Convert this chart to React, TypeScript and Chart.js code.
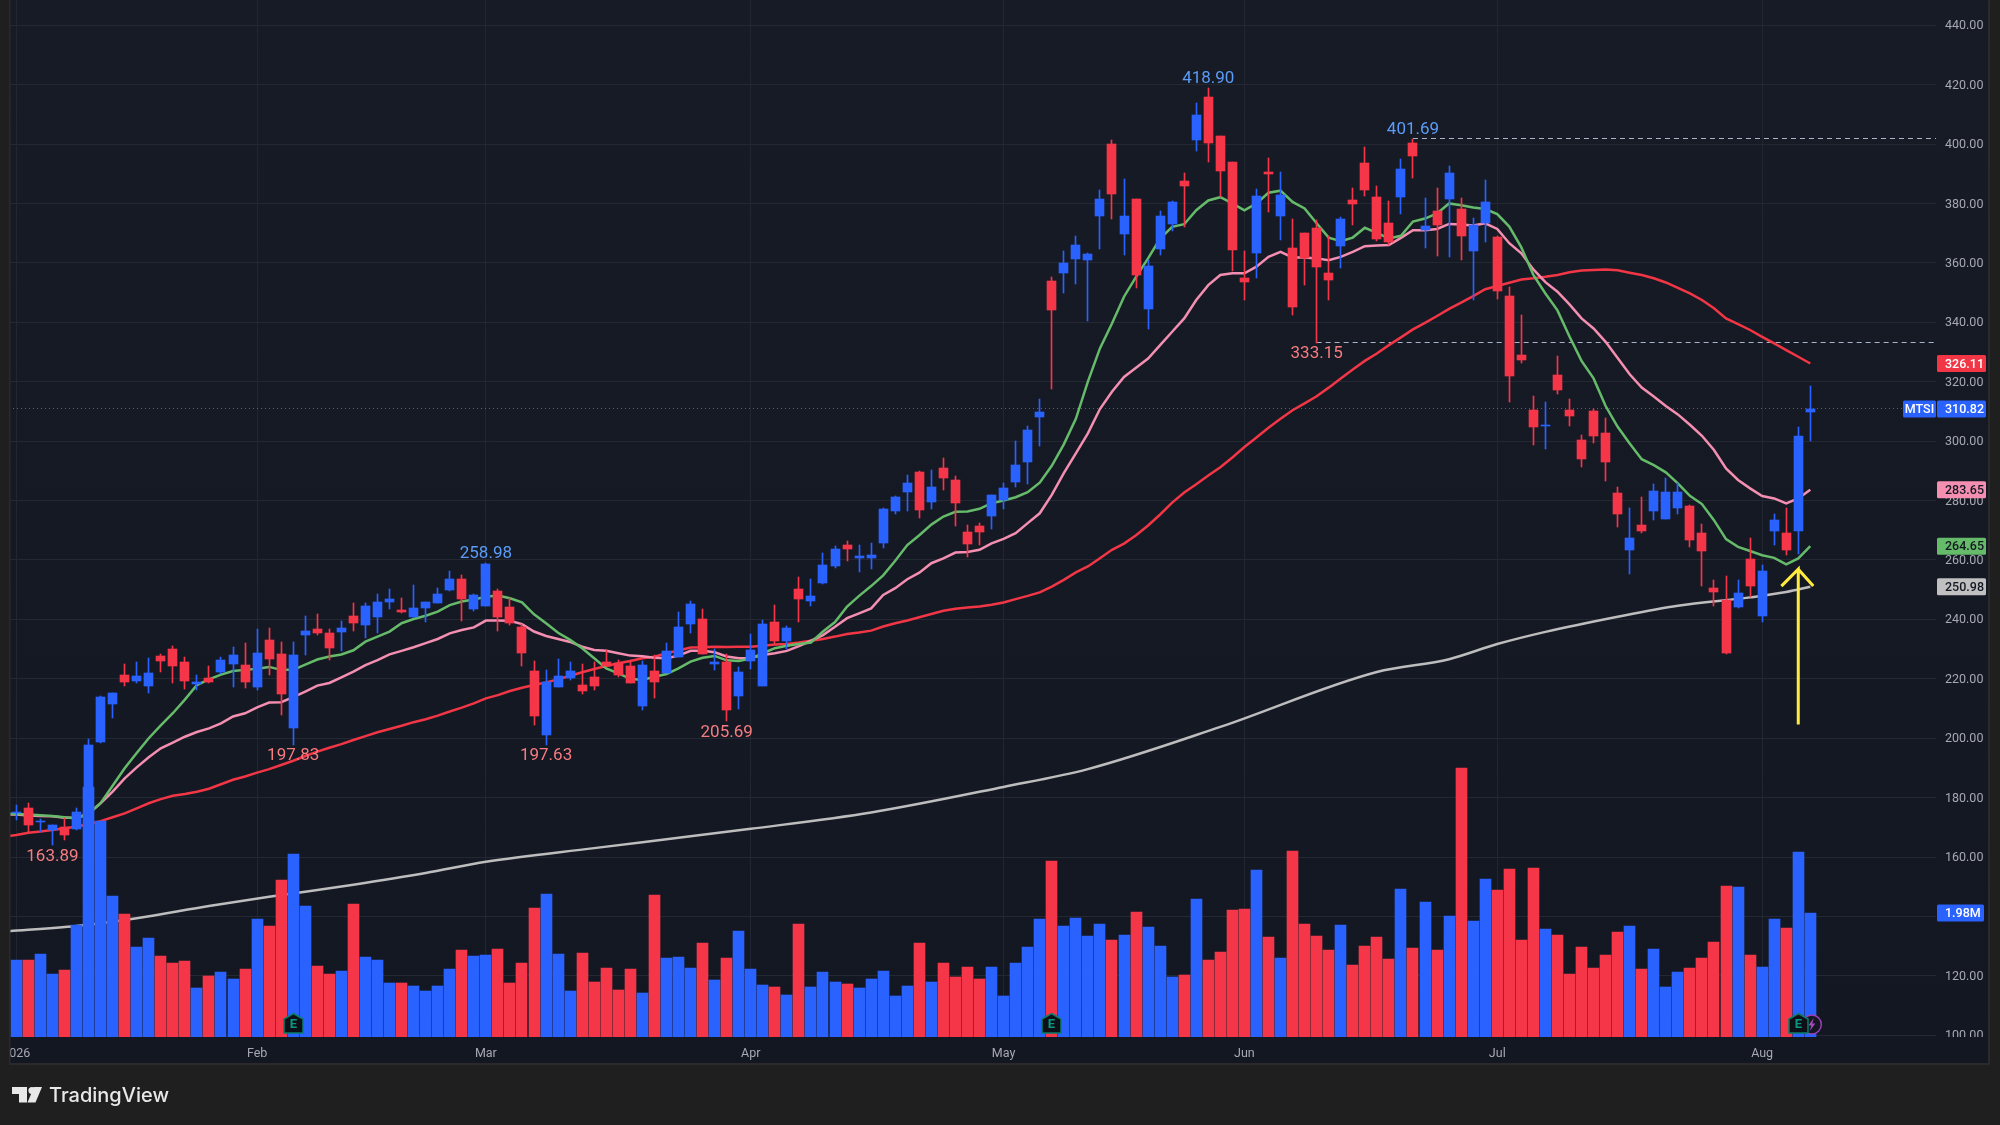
import React, { useEffect, useRef } from "react";
import { Chart, registerables } from "chart.js";

Chart.register(...registerables);

const opens = [174.7,176.5,171.8,169.1,170,169.4,176,198.7,211.5,221.3,219.3,217.6,227.7,230,225.6,218.4,220.3,222.3,225,224.6,217.2,233,228.3,203.4,234.7,236.8,235.4,235.8,241.1,238.1,240.8,245.8,243.2,240.8,243.8,245.5,249.9,253.6,243.5,244.5,
249.5,244.2,237.4,222.6,201.1,217.2,220.3,217.9,220.6,225.6,225.3,224.3,210.8,222.6,221.8,227.3,238.5,240.1,225,225.6,214.2,226,217.6,239.1,232.7,250.2,246.2,252.3,258,265,260.7,260.7,265.7,276.5,282.9,289.6,279.5,291,286.9,269.4,271.5,274.8,280.2,286.3,293,308.1,
353.8,356.5,361.2,360.9,375.7,400,369.7,381.5,344.4,364.6,373,387.5,401.3,415.8,402.6,393.9,354.9,363.3,390.5,375.7,365,370,371.7,356.5,365.6,381.1,393.6,382.1,373.4,382.1,400.3,371,377.4,381.5,378.1,363.9,373.4,368.7,348.8,329,
310.4,305,322.2,310.4,300.3,310.1,302.7,282.5,263.3,271.7,276.4,273.8,277.5,278.1,269,250.5,246.5,244.1,260.3,241.1,269.7,269,269.7,309.8];
const closes = [175.2,170.9,172.2,170.8,167.4,175.2,197.7,213.9,215.2,218.9,220.9,222,226,224.3,219.3,218.8,218.9,226.3,228,218.9,228.7,226.7,214.9,228,236.1,235.4,230.4,237.1,238.8,244.5,245.8,246.9,242.5,243.8,245.8,248.5,253.6,246.9,248.2,258.6,
240.8,238.8,228.7,207.5,218.9,220.9,222.6,215.9,217.6,224.4,221.3,218.6,224.6,218.9,229.4,237.4,245.2,228.3,225.6,209.5,222.3,229.7,238.4,232.7,237.1,246.9,247.9,258.3,263.7,263.7,261.3,261.7,277.2,281.2,285.9,276.8,284.6,287.6,279.2,265.4,269.4,281.9,284.2,292,303.8,309.8,
344.1,359.9,366,362.9,381.5,383.1,375.7,355.9,358.9,375.7,380.4,385.8,409.7,400.3,390.9,364.3,353.5,382.5,390,382.8,345.1,361.6,358.6,354.2,374.7,379.8,384.5,368,367,391.5,395.9,372.4,372.7,390.2,369,372.7,380.5,350.5,321.9,327.3,
304.7,305.4,317.2,308.4,293.9,301.7,292.9,275.4,267.4,269.7,283.2,282.8,282.8,266.7,263,249.2,228.6,248.8,251.2,256.2,273.4,263.3,301.7,310.82];
const highs = [177.5,178.1,172.9,170.8,173,176.4,199.7,214.2,215.2,225,225.6,227,228.3,231,227.3,221.3,224.3,227.3,230.7,232,236.8,237.1,232.4,232.4,241.1,241.8,236.8,239.5,245.5,245.5,248.5,250.2,247.2,251.6,245.8,250.6,256.3,254.9,248.5,258.98,
250.2,247.2,238.4,226,223,226.7,225.6,225,225.6,229.7,226.3,226.3,226,228,232,242.5,246.2,243.5,230,228.3,224,235.1,239.8,244.8,237.8,254.3,253.6,262.3,264.7,266.4,265,265.7,277.5,281.6,288.6,290,290.3,294.3,288.3,271.8,272.5,281.9,285.9,300,305.1,314.2,
355.2,363.9,369,363.3,384.5,401.3,388.2,381.5,360.9,377.4,380.8,390.2,413.8,418.9,402.6,393.9,363.9,384.8,395.2,390.5,374.7,370,374.4,369,375.4,385.2,399,385.8,380.8,394.9,401.69,381.8,385.2,392.6,381.8,375,387.9,369.2,351.9,342.4,
315.2,313.1,328.6,314.1,302,310.7,307.7,284.5,277.5,281.2,285.5,287.6,285.8,278.5,272,253.2,254.6,253.2,267.4,258.3,275.4,277.5,304.7,318.5];
const lows = [172.5,168.3,168.5,163.89,165.7,169.1,175,198.5,206.8,217.6,218.6,215.2,222.3,218.6,216.6,216.2,218.7,221.6,217.2,216.9,216.2,221.3,207.8,197.83,228,234.9,226.3,229.4,236.1,233.7,235.4,243.5,242.1,240.8,239.2,245.5,249.5,239.5,242.8,244.5,
236.1,238.1,224.3,204.4,197.63,217.2,219.6,214.9,216.2,224.3,220.6,218.6,209.5,213.5,221.8,227.3,235.4,228.3,223,205.69,209.8,223.3,217.6,231.4,230,239.1,244.5,251.9,257.3,259.6,256,257,264,275.5,276.5,274.1,277.2,283.6,271.5,261,265,270.4,277.2,284.6,285.6,298.4,
317.6,349.8,352.8,340.4,364.6,374.7,362.6,351.5,337.7,362.6,370.7,372.1,397.6,393.9,382.1,357.2,347.5,354.9,377.1,367.6,342.4,352.5,333.15,347.5,358.2,372.7,382.5,367.3,366,376.4,388.5,365,362.3,361.9,360.9,347.5,367.1,347.8,313.1,326.3,
298.7,297.3,315.8,305,291.3,299.3,286.5,271,255.2,269,273.4,273.8,275.4,264.3,251.2,244.5,228.4,243.8,247.5,239.1,265,261.6,262,300];
const volumes = [1.226,1.226,1.324,1.0,1.065,1.785,4.0,3.45,2.25,1.96,1.43,1.58,1.29,1.18,1.21,0.79,0.97,1.04,0.92,1.08,1.88,1.77,2.5,2.92,2.09,1.13,1.0,1.05,2.12,1.27,1.23,0.86,0.86,0.81,0.73,0.81,1.08,1.39,1.29,1.31,
1.40,0.86,1.19,2.06,2.28,1.32,0.73,1.34,0.875,1.10,0.75,1.08,0.71,2.27,1.26,1.28,1.10,1.50,0.91,1.26,1.69,1.09,0.83,0.80,0.67,1.81,0.80,1.04,0.88,0.85,0.78,0.93,1.05,0.65,0.81,1.50,0.88,1.18,0.96,1.12,0.93,1.12,0.65,1.18,1.44,1.885,
2.81,1.77,1.90,1.61,1.80,1.55,1.63,2.0,1.76,1.45,0.96,0.99,2.20,1.23,1.36,2.03,2.04,2.67,1.60,1.26,2.97,1.81,1.61,1.39,1.79,1.15,1.45,1.60,1.25,2.36,1.42,2.16,1.39,1.93,4.30,1.85,2.52,2.35,2.68,1.55,
2.70,1.725,1.63,1.01,1.44,1.10,1.31,1.68,1.77,1.09,1.41,0.80,1.04,1.10,1.26,1.52,2.41,2.40,1.31,1.12,1.885,1.74,2.955,1.98];

const maFast = [174.6,174.5,174.3,174.1,173.8,173.4,173.0,174.5,178.1,184,189.9,195,200,204.3,208.4,213,217.9,219.8,221.4,222.6,223,223.4,224,223,223,224.8,226.5,227.5,228.2,229.6,232.5,234.2,235.9,238.7,240.1,241.2,242.6,244.8,246,246.7,247.6,
248,247.1,245.7,241.7,238.7,235.5,233.1,230.3,226.9,223.5,221.8,220,219.6,220.7,221.6,223.5,225.8,227.1,227.7,226.2,226,226.8,228.6,230.3,231.1,231.7,232.2,235.9,239.1,244.3,247.9,251.2,254.8,259.7,265,268.3,271.9,274.6,276.2,276.3,277.2,279.1,280,281.1,282.8,286,291.7,298.9,307.5,320,331.2,339.6,348.6,355.3,361.5,368.2,372.1,373,377.7,381,382.1,380,377.7,380,383.6,384.3,380.5,378.3,373.3,368.5,367.3,368.5,371.8,370.1,368.2,369.1,373.9,374.9,376.6,380,379.4,378.6,378.1,376.4,372.2,365.2,355.9,349.7,344,335.2,327,321.1,311.8,304.8,299.2,293.9,291.9,289.5,285.8,281.6,278.8,273.4,267,264.4,263,261.6,260.7,258.5,260.5,264.65];
const maMid = [174.4,174.3,174,173.8,173.7,173.2,173.2,174.7,178.1,182,186.5,190.2,193.6,196.6,198.5,200.5,202.1,203.3,205,207.3,208.4,210.4,212,212.1,213.8,215.7,217.7,218.6,220.5,222.4,224.6,226.3,228.2,229.4,230.6,232,233.4,235.3,236.4,237.3,239.6,
239.6,239.5,238.4,235.9,234.4,233.4,232.4,230.8,229.7,229.4,228.6,227.8,227.6,227.1,226.9,227.8,229.4,229.4,228.9,227.5,226.9,227,228,228.6,229.4,231,232.8,234.7,237.5,240.4,242,243.7,248.2,250.5,253.5,255.7,258.9,260.5,262.5,262.7,263.4,265.6,267.1,269,272.4,275.7,281.9,289.2,295.9,302.6,310.8,316.6,321.6,324.7,327.8,332.3,336.8,341.3,347.5,352.5,355.9,356.5,356.5,358.7,362,363.7,361.8,361.8,361.5,360.9,362,363.7,365.6,365.8,366,368.4,371,371,371.4,373.1,372.9,372.6,373.3,371.4,366.6,363.2,357.8,353.5,350.3,346,341.3,337.9,333.4,328,322.5,318,315,311.8,309,305.5,301.8,297,290.8,286.9,284.1,281.5,280.7,279,280.7,283.65];
const maSlow = [166.9,167.4,168.2,168.6,169.1,169.7,170.2,171.1,172.1,173.4,174.7,176.4,178.1,179.5,180.6,181.2,182,183,184.5,186,187.1,188.4,189.6,191,192.4,194,195.5,196.8,198,199.4,200.7,202,203.1,204.2,205.4,206.4,207.6,209,210.3,211.7,213.4,
214.5,215.9,217,217.9,218.8,219.8,221,222.2,223.3,224.3,225.2,226,226.9,227.4,228.6,229.5,230.5,230.6,230.8,230.7,230.8,230.8,231.1,231.5,231.7,232.2,232.8,233.4,234.2,235.1,235.6,236.2,237.6,238.7,239.6,240.7,241.8,242.9,243.6,244,244.3,244.9,245.7,246.8,247.9,249.1,251,253.3,255.8,257.8,260.6,263.4,265.5,268.3,271.6,275.3,279.3,282.7,285.5,288.4,291.2,294.5,298,301.2,304.5,307.5,310.4,312.7,315.1,318,321.1,324.1,327,329.5,332.3,334.9,337.6,339.8,342.1,344.5,346.6,348.8,351.1,352.2,353.3,354.4,354.8,355.3,355.9,356.8,357.4,357.6,357.8,357.5,356.7,355.9,354.8,353.4,351.6,349.7,347.5,344.7,341.3,339.4,337.4,335.1,332.9,330.6,328.4,326.11];
const ma200Index = [-1,5,10,16,21,28,34,39,48,54,61,71,82,89,100,113,119,123,127,133,138,144,147,149];
const ma200Value = [134.9,136.8,139.4,143.5,146.6,150.7,154.6,158.4,163,166,169.5,175,183.6,189.6,203.8,222.3,226.6,231.7,235.8,240.9,244.6,247.4,249.2,250.98];

const priceTicks = [100,120,140,160,180,200,220,240,260,280,300,320,340,360,380,400,420,440];
const monthTicks = [0,20,39,61,82,102,123,145];
const monthLabels = ["2026","Feb","Mar","Apr","May","Jun","Jul","Aug"];
const pivotIndex = [3,23,39,44,59,99,108,116];
const pivotPrice = [163.89,197.83,258.98,197.63,205.69,418.9,333.15,401.69];
const pivotIsHigh = [false,false,true,false,false,true,false,true];
const earningsIndex = [23,86,148];
const dividendIndex = [149];
const lastClose = 310.82;
const lastVolume = 1.98;
const ticker = "MTSI";
const tagValues = [326.11,283.65,264.65,250.98];
const tagFill = ["#F23645","#F48FB1","#66BB6A","#C0C0C0"];
const tagText = ["#FFFFFF","#131722","#131722","#131722"];

const arrowX = [148,148,146.6,148,149.25];
const arrowY = [204.6,256.9,251.2,256.9,251.2];

const BLUE = "#2962FF";
const RED = "#F43648";
const X_MIN = -0.606;
const X_MAX = 159.44;
const Y_MIN = 99.43;
const Y_MAX = 448.47;
const VOL_MAX = 16.565;
const TICK_FONT = "Roboto";
const TICK_COLOR = "#A6A9B1";

const isUp = closes.map((c, i) => c >= opens[i]);
const colors = isUp.map((u) => (u ? BLUE : RED));

const snapPlugin = {
  id: "snap",
  afterDatasetsUpdate(chart: any) {
    chart.getSortedVisibleDatasetMetas().forEach((m: any) => {
      if (m.type === "line" && m.controller.getDataset().borderWidth === 1) {
        m.data.forEach((p: any) => {
          p.y = Math.floor(p.y) + 0.5;
        });
        return;
      }
      if (m.type !== "bar") return;
      m.data.forEach((el: any) => {
        el.x = Math.floor(el.x) + 0.5;
        el.y = Math.round(el.y);
        el.base = Math.round(el.base);
        if (Math.abs(el.base - el.y) < 1) el.base = el.y + 1;
      });
    });
  },
};

function roundRect(ctx: any, x: number, y: number, w: number, h: number, r: number) {
  ctx.beginPath();
  ctx.roundRect(x, y, w, h, r);
  ctx.fill();
}

const backgroundPlugin = {
  id: "bg",
  beforeDraw(chart: any) {
    const c = chart.ctx;
    c.save();
    c.fillStyle = "#1F1F1F";
    c.fillRect(0, 0, 2000, 1125);
    const g = c.createLinearGradient(0, 0, 0, 1064);
    g.addColorStop(0, "#171B26");
    g.addColorStop(1, "#131722");
    c.fillStyle = g;
    c.fillRect(9, 0, 1980, 1064);
    c.restore();
  },
  afterDraw(chart: any) {
    const c = chart.ctx;
    const x = chart.scales.x;
    const y = chart.scales.y;
    const vol = chart.scales.vol;
    c.save();
    // clip pane edges
    c.fillStyle = "#131722";
    c.fillRect(1937, 1037, 52, 27);
    c.fillStyle = "#1F1F1F";
    c.fillRect(0, 0, 9, 1125);
    c.fillStyle = "#2A2A2A";
    c.fillRect(9, 0, 1.5, 1065);
    c.fillRect(1988, 0, 2, 1065);
    c.fillRect(9, 1063, 1981, 2);

    // pivot labels
    c.textAlign = "center";
    c.textBaseline = "middle";
    c.font = `17px ${TICK_FONT}`;
    pivotIndex.forEach((ix, k) => {
      const py = y.getPixelForValue(pivotPrice[k]);
      c.fillStyle = pivotIsHigh[k] ? "#5B9CF6" : "#F77C80";
      c.fillText(pivotPrice[k].toFixed(2), x.getPixelForValue(ix), py + (pivotIsHigh[k] ? -9 : 11));
    });

    // dividends & earnings markers
    dividendIndex.forEach((ix) => {
      const px = x.getPixelForValue(ix) + 1.5;
      c.beginPath();
      c.arc(px, 1024.5, 9.5, 0, Math.PI * 2);
      c.fillStyle = "#131722";
      c.fill();
      c.lineWidth = 1.5;
      c.strokeStyle = "#9C3FB5";
      c.stroke();
      c.fillStyle = "#AB47BC";
      c.beginPath();
      c.moveTo(px + 2, 1018);
      c.lineTo(px - 3.5, 1025.5);
      c.lineTo(px - 0.5, 1025.5);
      c.lineTo(px - 2, 1031);
      c.lineTo(px + 3.5, 1023.5);
      c.lineTo(px + 0.5, 1023.5);
      c.closePath();
      c.fill();
    });
    earningsIndex.forEach((ix) => {
      const px = Math.floor(x.getPixelForValue(ix)) + 0.5;
      c.beginPath();
      c.moveTo(px, 1013.5);
      c.lineTo(px + 9.5, 1019);
      c.lineTo(px + 9.5, 1033);
      c.lineTo(px - 9.5, 1033);
      c.lineTo(px - 9.5, 1019);
      c.closePath();
      c.fillStyle = "#0D1117";
      c.fill();
      c.lineWidth = 1.5;
      c.strokeStyle = "#0A7D6B";
      c.stroke();
      c.fillStyle = "#089981";
      c.font = `bold 13px ${TICK_FONT}`;
      c.fillText("E", px, 1025);
    });

    // last-value tags
    const tag = (val: number, fill: string, text: string, label: string, pixel: number, w = 49) => {
      c.fillStyle = fill;
      roundRect(c, 1937, pixel - 8.5, w, 17, 1.5);
      c.fillStyle = text;
      c.font = `500 12.5px ${TICK_FONT}`;
      c.textAlign = "left";
      c.fillText(label, 1945, pixel + 1);
    };
    tagValues.forEach((v, k) => tag(v, tagFill[k], tagText[k], v.toFixed(2), y.getPixelForValue(v)));
    const py = y.getPixelForValue(lastClose);
    tag(lastClose, BLUE, "#FFFFFF", lastClose.toFixed(2), py);
    c.fillStyle = BLUE;
    roundRect(c, 1903, py - 8.5, 33, 17, 1.5);
    c.fillStyle = "#FFFFFF";
    c.font = `500 12.5px ${TICK_FONT}`;
    c.textAlign = "center";
    c.fillText(ticker, 1919.5, py + 1);
    tag(lastVolume, BLUE, "#FFFFFF", lastVolume.toFixed(2) + "M", vol.getPixelForValue(lastVolume), 47);

    // logo
    c.fillStyle = "#E8E8E8";
    c.fillRect(12, 1087, 15, 7);
    c.fillRect(19, 1094, 8, 8.5);
    c.beginPath();
    c.arc(32, 1090.5, 3.6, 0, Math.PI * 2);
    c.fill();
    c.beginPath();
    c.moveTo(42, 1087);
    c.lineTo(35.5, 1102.5);
    c.lineTo(27.5, 1102.5);
    c.lineTo(34, 1087);
    c.closePath();
    c.fill();
    c.font = "500 20px Inter";
    c.textAlign = "left";
    c.textBaseline = "alphabetic";
    c.fillText("TradingView", 49, 1101.5);
    c.restore();
  },
};

const lineSet = (label: string, values: number[], color: string, order: number) => ({
  type: "line" as const,
  label,
  data: values.map((y, i) => ({ x: i - 1, y })),
  borderColor: color,
  borderWidth: 2.5,
  pointRadius: 0,
  tension: 0,
  order,
  xAxisID: "x",
  yAxisID: "y",
});

export default function App() {
  const ref = useRef<HTMLCanvasElement | null>(null);
  useEffect(() => {
    document.body.style.margin = "0";
    document.body.style.background = "#1F1F1F";
    const chart = new Chart(ref.current as HTMLCanvasElement, {
      type: "bar",
      data: {
        datasets: [
          {
            type: "bar",
            label: "Volume",
            data: volumes.map((y, i) => ({ x: i, y })),
            backgroundColor: colors,
            barThickness: 11,
            grouped: false,
            order: 0,
            xAxisID: "x",
            yAxisID: "vol",
          },
          {
            type: "line",
            label: "Arrow",
            data: arrowX.map((x, i) => ({ x, y: arrowY[i] })),
            borderColor: "#FFEB3B",
            borderWidth: 3,
            pointRadius: 0,
            order: 0,
            xAxisID: "x",
            yAxisID: "y",
          },
          {
            type: "bar",
            label: "Body",
            data: opens.map((o, i) => ({ x: i, y: [o, closes[i]] })),
            backgroundColor: colors,
            barThickness: 9,
            grouped: false,
            order: 1,
            xAxisID: "x",
            yAxisID: "y",
          },
          {
            type: "bar",
            label: "Wick",
            data: lows.map((l, i) => ({ x: i, y: [l, highs[i]] })),
            backgroundColor: colors,
            barThickness: 1,
            grouped: false,
            order: 2,
            xAxisID: "x",
            yAxisID: "y",
          },
          lineSet("EMA fast", maFast, "#66BB6A", 3),
          lineSet("EMA mid", maMid, "#F48FB1", 4),
          lineSet("EMA slow", maSlow, "#F23645", 5),
          {
            ...lineSet("MA 200", [], "#BDBDBD", 6),
            data: ma200Index.map((x, i) => ({ x, y: ma200Value[i] })),
            cubicInterpolationMode: "monotone",
          },
          {
            ...lineSet("Last", [], BLUE, 7),
            data: [{ x: X_MIN, y: lastClose }, { x: X_MAX, y: lastClose }],
            borderWidth: 1,
            borderDash: [1, 3],
          },
          {
            ...lineSet("High level", [], "#A9B4CC", 7),
            data: [{ x: pivotIndex[7], y: pivotPrice[7] }, { x: X_MAX, y: pivotPrice[7] }],
            borderWidth: 1,
            borderDash: [5, 4],
          },
          {
            ...lineSet("Low level", [], "#A9B4CC", 7),
            data: [{ x: pivotIndex[6], y: pivotPrice[6] }, { x: X_MAX, y: pivotPrice[6] }],
            borderWidth: 1,
            borderDash: [5, 4],
          },
        ],
      } as any,
      options: {
        responsive: false,
        animation: false,
        devicePixelRatio: 1,
        maintainAspectRatio: false,
        layout: { padding: { left: 9, right: 11, top: 0, bottom: 61 } },
        plugins: { legend: { display: false }, tooltip: { enabled: false } },
        scales: {
          x: {
            type: "linear",
            min: X_MIN,
            max: X_MAX,
            offset: false,
            afterBuildTicks: (s: any) => {
              s.ticks = monthTicks.map((value) => ({ value }));
            },
            afterFit: (s: any) => {
              s.height = 27;
              s.paddingLeft = 0;
              s.paddingRight = 0;
              s.paddingTop = 0;
              s.paddingBottom = 0;
            },
            grid: { color: "#222630", drawTicks: false, lineWidth: 1, offset: false },
            border: { display: false },
            ticks: {
              autoSkip: false,
              maxRotation: 0,
              padding: 9,
              color: TICK_COLOR,
              font: { family: TICK_FONT, size: 12.5 },
              callback: (v: any) => monthLabels[monthTicks.indexOf(v)],
            },
          },
          y: {
            type: "linear",
            position: "right",
            min: Y_MIN,
            max: Y_MAX,
            afterBuildTicks: (s: any) => {
              s.ticks = priceTicks.map((value) => ({ value }));
            },
            afterFit: (s: any) => {
              s.width = 53;
              s.paddingLeft = 0;
              s.paddingRight = 0;
              s.paddingTop = 0;
              s.paddingBottom = 0;
            },
            grid: { color: "#242833", drawTicks: false, lineWidth: 1 },
            border: { display: false },
            ticks: {
              padding: 9,
              labelOffset: 1,
              color: TICK_COLOR,
              font: { family: TICK_FONT, size: 12.5 },
              callback: (v: any) => Number(v).toFixed(2),
            },
          },
          vol: {
            type: "linear",
            display: false,
            position: "right",
            min: 0,
            max: VOL_MAX,
          },
        },
      } as any,
      plugins: [snapPlugin, backgroundPlugin],
    } as any);
    return () => chart.destroy();
  }, []);
  return (
    <div style={{ width: 2000, height: 1125 }}>
      <canvas ref={ref} width={2000} height={1125} style={{ display: "block" }} />
    </div>
  );
}
